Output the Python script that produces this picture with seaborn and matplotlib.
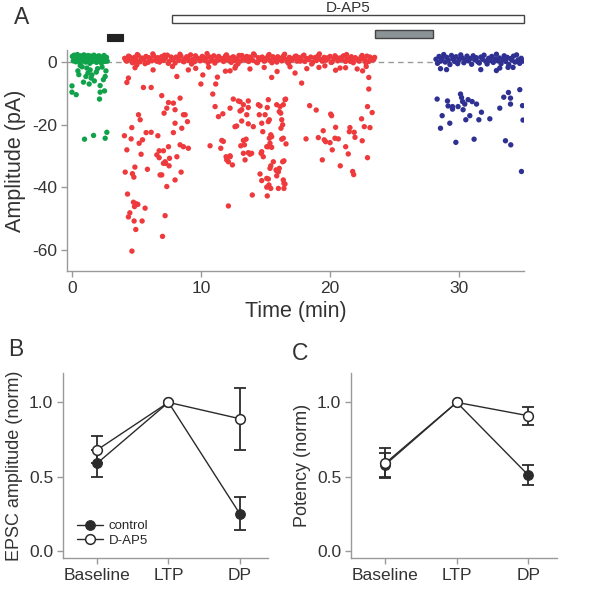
import matplotlib.pyplot as plt
import numpy as np
import pandas as pd
import seaborn as sns
from matplotlib.patches import Rectangle

# ---- panel A: event amplitudes (pA) over time (min) ----
# baseline period (green): dense band near 0 plus larger events
baseline_band_t = [0.05, 0.12, 0.18, 0.25, 0.31, 0.38, 0.44, 0.50, 0.57, 0.63,
                   0.70, 0.76, 0.82, 0.89, 0.95, 1.02, 1.08, 1.15, 1.21, 1.27,
                   1.34, 1.40, 1.47, 1.53, 1.60, 1.66, 1.72, 1.79, 1.85, 1.92,
                   1.98, 2.05, 2.11, 2.17, 2.24, 2.30, 2.37, 2.43, 2.50, 2.56,
                   2.62, 2.69, 2.75]
baseline_band_amp = [1.8, 0.4, 2.2, 1.1, 0.1, 1.6, 2.4, 0.7, 1.3, -0.2,
                     2.0, 0.9, 1.5, 0.3, 2.3, 1.0, 0.0, 1.7, 0.6, 2.1,
                     1.2, -0.4, 1.9, 0.8, 0.2, 1.4, 2.2, 0.5, 1.1, -0.1,
                     1.8, 0.9, 2.0, 0.4, 1.3, -0.3, 1.6, 0.7, 2.1, 0.2,
                     1.0, 1.5, 0.3]
baseline_events = [(0.48, -2.8), (0.66, -1.1), (1.17, -1.9), (1.43, -2.5), (1.56, -4.1),
                   (2.00, -2.1), (2.59, -4.6), (1.10, -4.6), (1.50, -5.1), (0.91, -6.4),
                   (1.35, -7.0), (0.02, -7.6), (2.20, -7.5), (0.02, -9.6), (0.35, -10.4),
                   (2.20, -9.6), (2.54, -9.2), (2.15, -11.8), (0.99, -24.6), (1.69, -23.4),
                   (2.59, -24.3), (2.72, -22.4), (0.80, -1.5), (1.90, -3.2), (2.35, -1.6),
                   (2.65, -2.8), (1.25, -3.5), (0.55, -4.0), (1.75, -6.0), (2.45, -5.6)]

# after pairing (red)
ltp_band_t = [4.10, 4.25, 4.40, 4.55, 4.70, 4.85, 5.00, 5.15, 5.30, 5.45,
              5.60, 5.75, 5.90, 6.05, 6.20, 6.35, 6.50, 6.65, 6.80, 6.95,
              7.10, 7.25, 7.40, 7.55, 7.70, 7.85, 8.00, 8.15, 8.30, 8.45,
              8.60, 8.75, 8.90, 9.05, 9.20, 9.35, 9.50, 9.65, 9.80, 9.95,
              10.10, 10.25, 10.40, 10.55, 10.70, 10.85, 11.00, 11.15, 11.30, 11.45,
              11.60, 11.75, 11.90, 12.05, 12.20, 12.35, 12.50, 12.65, 12.80, 12.95,
              13.10, 13.25, 13.40, 13.55, 13.70, 13.85, 14.00, 14.15, 14.30, 14.45,
              14.60, 14.75, 14.90, 15.05, 15.20, 15.35, 15.50, 15.65, 15.80, 15.95,
              16.10, 16.25, 16.40, 16.55, 16.70, 16.85, 17.00, 17.15, 17.30, 17.45,
              17.60, 17.75, 17.90, 18.05, 18.20, 18.35, 18.50, 18.65, 18.80, 18.95,
              19.10, 19.25, 19.40, 19.55, 19.70, 19.85, 20.00, 20.15, 20.30, 20.45,
              20.60, 20.75, 20.90, 21.05, 21.20, 21.35, 21.50, 21.65, 21.80, 21.95,
              22.10, 22.25, 22.40, 22.55, 22.70, 22.85, 23.00, 23.15, 23.30, 23.45]
ltp_band_amp = [1.2, 0.3, 1.9, 0.8, -0.2, 1.5, 0.6, 2.1, 0.1, 1.3,
                0.9, 1.8, -0.1, 1.1, 0.4, 2.0, 0.7, 1.4, 0.0, 1.7,
                0.5, 1.2, 2.2, 0.2, 1.6, 0.9, -0.3, 1.3, 0.6, 1.9,
                0.3, 1.0, 1.7, 0.5, 2.3, 0.8, 0.1, 1.5, 1.1, 0.4,
                1.8, 0.6, 1.2, -0.2, 1.6, 0.9, 2.0, 0.3, 1.4, 0.7,
                1.1, 0.2, 1.9, 0.8, 1.3, -0.1, 1.7, 0.5, 1.0, 2.1,
                0.4, 1.5, 0.9, 1.8, 0.2, 1.2, 0.6, 2.2, 0.0, 1.4,
                0.8, 1.6, 0.3, 1.1, 1.9, 0.5, -0.2, 1.3, 0.7, 1.7,
                1.0, 0.4, 2.0, 0.9, 0.1, 1.5, 0.6, 1.2, 1.8, 0.3,
                1.4, 0.7, 1.9, 0.2, 1.1, 0.8, 1.6, -0.1, 1.3, 0.5,
                2.1, 0.9, 0.3, 1.5, 0.6, 1.2, 1.8, 0.0, 1.0, 1.6,
                0.4, 1.3, 0.8, 2.0, 0.2, 1.1, 0.7, 1.7, -0.2, 1.4,
                0.9, 0.3, 1.6, 1.1, 0.5, 1.9, 0.2, 1.2, 0.7, 1.5]
ltp_band2_t = [4.18, 4.48, 4.78, 5.08, 5.38, 5.68, 5.98, 6.28, 6.58, 6.88,
               7.18, 7.48, 7.78, 8.08, 8.38, 8.68, 8.98, 9.28, 9.58, 9.88,
               10.18, 10.48, 10.78, 11.08, 11.38, 11.68, 11.98, 12.28, 12.58, 12.88,
               13.18, 13.48, 13.78, 14.08, 14.38, 14.68, 14.98, 15.28, 15.58, 15.88,
               16.18, 16.48, 16.78, 17.08, 17.38, 17.68, 17.98, 18.28, 18.58, 18.88,
               19.18, 19.48, 19.78, 20.08, 20.38, 20.68, 20.98, 21.28, 21.58, 21.88,
               22.18, 22.48, 22.78, 23.08, 23.38]
ltp_band2_amp = [0.6, 1.7, 0.2, 2.4, 1.0, -0.5, 1.4, 2.6, 0.3, 1.1,
                 2.2, -0.4, 0.9, 1.6, 2.5, 0.1, 1.3, -0.6, 2.0, 0.8,
                 1.5, 2.7, 0.4, -0.3, 1.8, 1.0, 2.3, 0.2, 1.4, -0.5,
                 2.1, 0.7, 1.6, 2.6, -0.2, 1.1, 0.5, 2.4, 1.7, 0.0,
                 1.2, 2.5, -0.4, 0.8, 1.9, 0.3, 2.2, 1.0, -0.6, 1.5,
                 2.6, 0.6, 1.3, -0.1, 2.0, 0.9, 1.7, 2.4, 0.2, 1.1,
                 0.5, 2.1, -0.3, 1.6, 0.8]
ltp_events = [
    (4.39, -5.1), (4.27, -6.5), (5.04, -0.9), (5.55, -8.1), (6.15, -8.1), (6.97, -10.7),
    (8.14, -4.6), (8.39, -11.5), (7.49, -12.9), (7.87, -13.1), (7.36, -14.7), (8.00, -15.2),
    (7.15, -16.3), (5.17, -16.8), (5.30, -18.4), (8.00, -19.5), (8.65, -16.8), (4.65, -20.9),
    (4.08, -23.5), (4.60, -24.5), (5.76, -22.5), (6.15, -22.4), (6.67, -23.5), (7.87, -22.5),
    (8.52, -21.1), (5.48, -24.8), (5.22, -25.9), (4.27, -28.0), (5.37, -29.4), (6.59, -29.6),
    (7.10, -28.3), (7.49, -27.0), (8.39, -26.4), (8.14, -30.2), (6.77, -30.5), (7.57, -30.7),
    (7.23, -31.8), (7.28, -32.3), (7.54, -33.1), (4.89, -33.5), (5.86, -34.2), (4.14, -35.1),
    (4.70, -35.6), (4.81, -36.7), (6.97, -36.0), (8.47, -35.1), (8.00, -37.6), (7.36, -39.7),
    (4.32, -42.1), (4.78, -44.7), (4.99, -45.2), (5.12, -45.4), (4.86, -46.1), (5.68, -46.6),
    (4.50, -48.1), (4.39, -49.4), (7.23, -49.0), (4.83, -50.7), (5.45, -50.7), (4.96, -53.4),
    (7.03, -55.6), (4.66, -60.3), (9.03, -27.5), (8.78, -16.8), (8.96, -19.0), (6.84, -36.0),
    (8.65, -27.0), (7.10, -32.3), (6.77, -28.3),
    (10.71, -26.7), (11.10, -14.2), (11.36, -17.4), (11.70, -16.5), (12.26, -14.7), (11.54, -27.5),
    (11.62, -25.0), (11.74, -25.3), (11.95, -30.2), (12.00, -31.2), (12.13, -31.8), (12.26, -29.9),
    (12.44, -32.8), (12.13, -45.9), (12.64, -20.6), (13.03, -12.6), (13.09, -26.7), (13.16, -15.2),
    (13.29, -25.0), (13.50, -24.6), (13.55, -16.8), (13.67, -19.7), (13.67, -28.9), (13.93, -29.1),
    (13.42, -31.2), (13.98, -42.4), (14.06, -20.6), (14.45, -13.6), (14.52, -16.8), (14.71, -19.5),
    (14.79, -22.2), (14.66, -29.1), (14.83, -30.2), (15.10, -27.0), (14.58, -35.7), (14.71, -37.8),
    (15.10, -37.1), (15.22, -37.3), (15.10, -39.9), (15.14, -42.7), (15.41, -40.3), (15.35, -25.9),
    (15.48, -27.2), (15.61, -31.8), (15.82, -34.4), (16.00, -35.0), (16.07, -33.9), (15.87, -36.3),
    (16.00, -40.3), (16.38, -37.6), (16.43, -38.7), (16.43, -40.3), (16.33, -31.8), (16.59, -26.1),
    (16.26, -24.6), (16.20, -21.1), (16.33, -20.0), (16.18, -16.3), (16.07, -15.8), (15.87, -13.6),
    (15.30, -18.4), (15.22, -19.0), (14.97, -16.8), (15.41, -23.2), (15.30, -24.3), (16.38, -13.6),
    (16.51, -12.0), (9.03, -2.5), (10.15, -4.1), (10.00, -7.0), (11.28, -4.8), (11.15, -7.0),
    (10.92, -10.2), (12.51, -11.8), (12.90, -12.4), (13.29, -13.6), (13.67, -12.4), (13.67, -14.5),
    (13.03, -15.6), (12.77, -20.4), (13.16, -18.8), (14.58, -14.0), (15.14, -14.5), (15.22, -12.0),
    (15.48, -4.9), (16.13, -14.2), (16.56, -11.8), (16.26, -18.4), (15.48, -23.8), (16.38, -24.3),
    (13.37, -26.4), (12.26, -30.2), (13.29, -29.1), (13.80, -29.4), (14.71, -28.6), (15.22, -27.0),
    (16.43, -31.5), (15.35, -33.9), (15.41, -33.1), (15.87, -34.7), (16.51, -38.9), (15.27, -39.2),
    (17.29, -3.5), (17.80, -6.7), (19.14, -1.7), (20.43, -2.6), (20.77, -1.9), (22.10, -2.2),
    (22.52, -2.8), (23.00, -4.9), (23.00, -8.6), (18.42, -13.9), (18.93, -15.3), (20.05, -16.6),
    (20.12, -17.1), (22.90, -14.2), (23.26, -16.1), (22.44, -18.1), (20.43, -20.8), (21.54, -20.9),
    (22.65, -20.6), (23.09, -20.9), (19.47, -21.9), (21.49, -22.2), (21.87, -22.4), (19.09, -24.1),
    (18.14, -24.5), (19.55, -24.8), (19.66, -25.4), (20.00, -25.7), (20.38, -24.3), (20.64, -24.5),
    (21.93, -24.0), (22.49, -25.1), (21.21, -27.0), (20.17, -28.0), (21.41, -29.3), (22.90, -30.5),
    (19.40, -31.2), (20.79, -33.1), (21.75, -34.9), (21.83, -35.9),
    (4.90, -1.8), (6.30, -2.5), (7.80, -1.4), (9.60, -2.0), (10.60, -1.6), (11.90, -2.9),
    (12.70, -1.3), (13.80, -2.2), (14.90, -1.7), (15.90, -3.0), (16.90, -1.5), (18.20, -2.1),
    (19.60, -1.2), (21.20, -1.8), (22.80, -1.4), (12.26, -2.8), (12.64, -1.9)]

# D-AP5 washout period (blue)
dap5_band_t = [28.20, 28.32, 28.44, 28.56, 28.68, 28.80, 28.92, 29.04, 29.16, 29.28,
               29.40, 29.52, 29.64, 29.76, 29.88, 30.00, 30.12, 30.24, 30.36, 30.48,
               30.60, 30.72, 30.84, 30.96, 31.08, 31.20, 31.32, 31.44, 31.56, 31.68,
               31.80, 31.92, 32.04, 32.16, 32.28, 32.40, 32.52, 32.64, 32.76, 32.88,
               33.00, 33.12, 33.24, 33.36, 33.48, 33.60, 33.72, 33.84, 33.96, 34.08,
               34.20, 34.32, 34.44, 34.56, 34.68, 34.80, 34.92]
dap5_band_amp = [0.9, -0.4, 1.8, 0.3, 1.2, 2.4, 0.0, 1.5, 0.6, -0.8,
                 2.1, 1.0, 0.2, 1.7, -0.5, 0.8, 2.3, 1.3, -0.2, 0.6,
                 1.9, 0.4, 1.1, -0.7, 2.0, 0.7, 1.4, 0.1, -0.3, 1.6,
                 0.9, 2.2, 0.3, -0.6, 1.2, 0.5, 1.8, -0.1, 1.0, 2.5,
                 0.4, 1.3, -0.5, 0.8, 2.0, 0.2, 1.5, -0.8, 1.1, 0.6,
                 1.9, 0.0, 2.3, 0.7, -0.4, 1.2, 0.3]
dap5_events = [
    (28.55, -2.1), (29.02, -2.4), (31.67, -2.4), (32.88, -2.7), (33.14, -1.9), (33.78, -1.7),
    (34.17, -1.7), (28.29, -11.8), (29.09, -12.4), (30.10, -10.2), (30.18, -11.3), (30.26, -12.6),
    (30.43, -13.4), (30.69, -12.0), (31.00, -12.6), (31.34, -13.4), (29.14, -14.0), (29.48, -14.2),
    (29.48, -15.0), (29.91, -14.2), (30.30, -15.2), (31.72, -16.0), (28.68, -17.1), (30.82, -17.1),
    (30.51, -18.4), (31.52, -18.4), (32.37, -18.1), (29.27, -19.5), (28.55, -21.1), (33.45, -11.2),
    (33.81, -9.7), (33.97, -11.5), (34.69, -8.8), (33.97, -13.4), (33.14, -14.7), (34.90, -13.9),
    (34.94, -18.5), (29.74, -25.6), (31.15, -24.6), (33.58, -25.1), (33.99, -26.4), (34.82, -34.9)]

# protocol bars above the trace (min)
pairing_period = (2.75, 4.0)
dap5_period = (7.8, 35.0)
depotentiation_period = (23.5, 28.0)

# ---- panels B, C: normalised group data ----
stages = ["Baseline", "LTP", "DP"]
epsc_control_mean = [0.59, 1.0, 0.25]
epsc_control_sem = [0.09, 0.0, 0.11]
epsc_dap5_mean = [0.68, 1.0, 0.89]
epsc_dap5_sem = [0.09, 0.0, 0.21]
potency_control_mean = [0.58, 1.0, 0.51]
potency_control_sem = [0.08, 0.0, 0.07]
potency_dap5_mean = [0.59, 1.0, 0.91]
potency_dap5_sem = [0.10, 0.0, 0.06]

period_colors = {"baseline": "#0fa24b", "ltp": "#ee3a3c", "dap5": "#2f3192"}
axis_grey = "#9a9a9a"
text_grey = "#333333"
line_dark = "#2b2b2b"


def events_frame(period, band_t, band_amp, events):
    ev_t, ev_amp = zip(*events)
    return pd.DataFrame({"time": list(band_t) + list(ev_t),
                         "amp": list(band_amp) + list(ev_amp),
                         "period": period})


def style_axes(ax, fs=12.5):
    sns.despine(ax=ax)
    for side in ("left", "bottom"):
        ax.spines[side].set_color(axis_grey)
        ax.spines[side].set_linewidth(1.0)
    ax.tick_params(colors=axis_grey, labelcolor=text_grey, labelsize=fs, length=4, width=1, pad=3)


def group_panel(ax, ctrl_mean, ctrl_sem, dap_mean, dap_sem, ylabel, legend=False):
    pos = np.arange(len(stages))
    for mean, sem in ((ctrl_mean, ctrl_sem), (dap_mean, dap_sem)):
        mean, sem = np.asarray(mean), np.asarray(sem)
        has_err = sem > 0
        ax.errorbar(pos[has_err], mean[has_err], yerr=sem[has_err], fmt="none", ecolor=line_dark,
                    elinewidth=1.3, capsize=4, capthick=1.3, zorder=2)
    sns.lineplot(x=pos, y=ctrl_mean, ax=ax, color=line_dark, lw=1.0, marker="o", markersize=7,
                 markerfacecolor=line_dark, markeredgecolor=line_dark, label="control", zorder=3)
    sns.lineplot(x=pos, y=dap_mean, ax=ax, color=line_dark, lw=1.0, marker="o", markersize=7,
                 markerfacecolor="white", markeredgecolor=line_dark, markeredgewidth=1.1,
                 label="D-AP5", zorder=4)
    ax.set_xlim(-0.48, 2.4)
    ax.set_ylim(-0.05, 1.2)
    ax.set_xticks(pos, stages)
    ax.set_yticks([0.0, 0.5, 1.0], ["0.0", "0.5", "1.0"])
    ax.set_xlabel("")
    ax.set_ylabel(ylabel, fontsize=13, color=text_grey)
    style_axes(ax)
    if legend:
        ax.legend(loc="lower left", frameon=False, fontsize=9.5, handlelength=2.0,
                  handletextpad=0.4, labelspacing=0.15, borderaxespad=0.2,
                  bbox_to_anchor=(0.03, 0.02))
    else:
        ax.get_legend().remove()


sns.set_style("ticks")
plt.rcParams["font.family"] = ["Liberation Sans", "DejaVu Sans"]
plt.rcParams["axes.unicode_minus"] = False

fig = plt.figure(figsize=(6.0, 6.08), dpi=100)

# panel A
axA = fig.add_axes([0.112, 0.554, 0.761, 0.364])
trace = pd.concat([
    events_frame("baseline", baseline_band_t, baseline_band_amp, baseline_events),
    events_frame("ltp", ltp_band_t + ltp_band2_t, ltp_band_amp + ltp_band2_amp, ltp_events),
    events_frame("dap5", dap5_band_t, dap5_band_amp, dap5_events),
], ignore_index=True)
axA.axhline(0, color=axis_grey, lw=1.0, dashes=(4, 3), zorder=1)
sns.scatterplot(data=trace, x="time", y="amp", hue="period", palette=period_colors,
                s=15, linewidth=0, legend=False, ax=axA, zorder=3)
axA.set_xlim(-0.35, 35.0)
axA.set_ylim(-66.7, 3.9)
axA.set_xticks([0, 10, 20, 30])
axA.set_yticks([0, -20, -40, -60])
axA.set_xlabel("Time (min)", fontsize=15.5, color=text_grey)
axA.set_ylabel("Amplitude (pA)", fontsize=15.5, color=text_grey, labelpad=5)
style_axes(axA)

# protocol bars, drawn above the axes in data units
axA.add_patch(Rectangle((pairing_period[0], 6.7), pairing_period[1] - pairing_period[0], 2.4,
                        facecolor="#222222", edgecolor="#222222", lw=0.8, clip_on=False))
axA.add_patch(Rectangle((dap5_period[0], 12.5), dap5_period[1] - dap5_period[0], 2.5,
                        facecolor="white", edgecolor="#444444", lw=1.0, clip_on=False))
axA.add_patch(Rectangle((depotentiation_period[0], 7.7), depotentiation_period[1] - depotentiation_period[0], 2.4,
                        facecolor="#8c9397", edgecolor="#444444", lw=1.0, clip_on=False))
axA.text(sum(dap5_period) / 2, 17.2, "D-AP5", ha="center", va="center", fontsize=11, color=text_grey)

# panels B and C
axB = fig.add_axes([0.105, 0.082, 0.342, 0.305])
group_panel(axB, epsc_control_mean, epsc_control_sem, epsc_dap5_mean, epsc_dap5_sem,
            "EPSC amplitude (norm)", legend=True)
axC = fig.add_axes([0.585, 0.082, 0.343, 0.305])
group_panel(axC, potency_control_mean, potency_control_sem, potency_dap5_mean, potency_dap5_sem,
            "Potency (norm)")

for label, x, y in (("A", 22, 17), ("B", 16, 350), ("C", 300, 353)):
    fig.text(x / 600, 1 - y / 608, label, fontsize=16.5, color=text_grey, ha="center", va="center")

fig.savefig("out.png", dpi=100)
